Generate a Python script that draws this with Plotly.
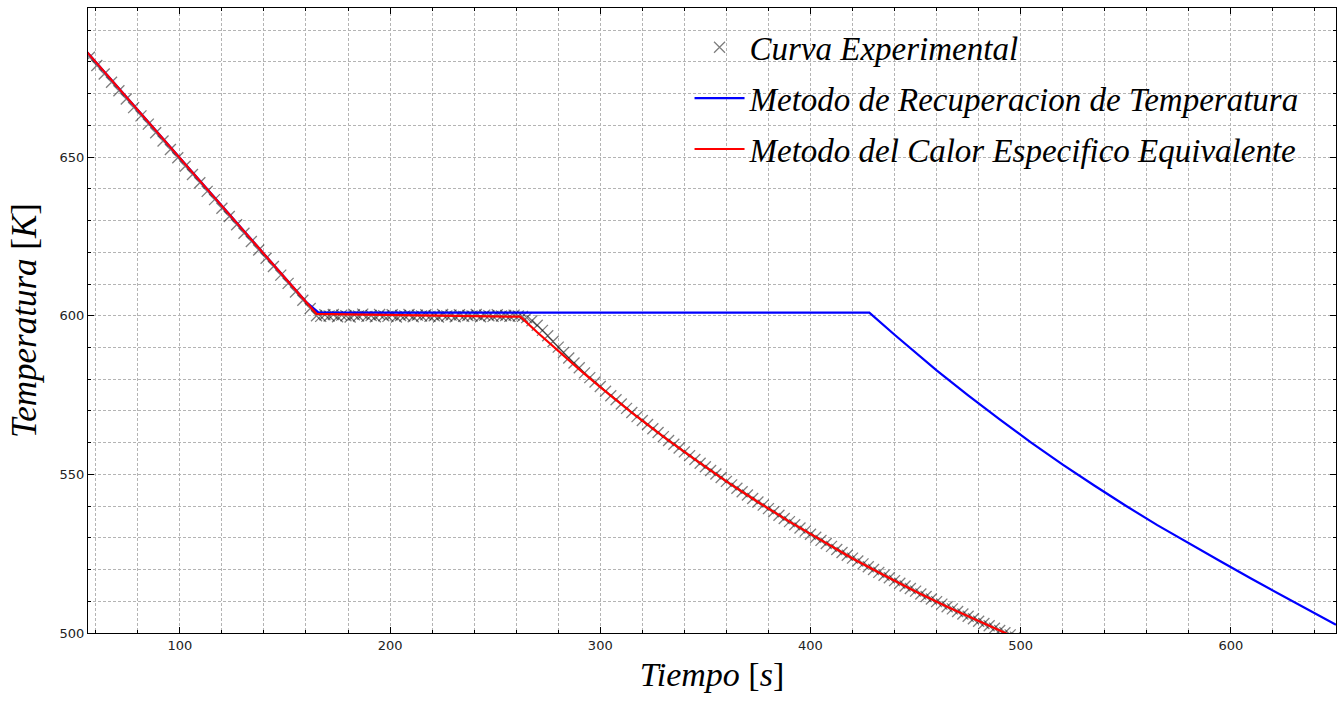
import plotly.graph_objects as go

# ---------------- data ----------------
exp_t = [57, 60.5, 64, 67.5, 71, 74.5, 78, 81.5, 85, 88.5, 92, 95.5, 99, 102.5, 106, 109.5,
         113, 116.5, 120, 123.5, 127, 130.5, 134, 137.5, 141, 144.5, 148, 151.5, 155, 158.5,
         162, 165,
         167, 169, 171, 173, 175, 177, 179, 181, 183, 185, 187, 189, 191, 193, 195, 197, 199,
         201, 203, 205, 207, 209, 211, 213, 215, 217, 219, 221, 223, 225, 227, 229, 231, 233,
         235, 237, 239, 241, 243, 245, 247, 249, 251, 253, 255, 257, 259, 261, 263,
         265, 267.5, 270, 272.5, 275, 277.5, 280, 282.5, 285, 287.5, 290, 292.5, 295, 297.5,
         300, 302.5, 305, 307.5, 310, 312.5, 315, 317.5, 320, 322.5, 325, 327.5, 330, 332.5,
         335, 337.5, 340, 342.5, 345, 347.5, 350, 352.5, 355, 357.5, 360, 362.5, 365, 367.5,
         370, 372.5, 375, 377.5, 380, 382.5, 385, 387.5, 390, 392.5, 395, 397.5, 400, 402.5,
         405, 407.5, 410, 412.5, 415, 417.5, 420, 422.5, 425, 427.5, 430, 432.5, 435, 437.5,
         440, 442.5, 445, 447.5, 450, 452.5, 455, 457.5, 460, 462.5, 465, 467.5, 470, 472.5,
         475, 477.5, 480, 482.5, 485, 487.5, 490, 492.5, 495, 497.5]
exp_T = [681.5, 678.9, 676.2, 673.6, 670.9, 668.3, 665.6, 663.0, 660.4, 657.7, 655.1, 652.4,
         649.8, 647.1, 644.5, 641.9, 639.2, 636.6, 633.9, 631.3, 628.7, 626.0, 623.4, 620.7,
         618.1, 615.5, 612.8, 610.2, 607.5, 604.9, 602.3, 600.0,
         599.8, 600.3, 599.9, 600.4, 599.7, 600.2, 600.0, 599.6, 600.3, 599.9, 600.5, 599.8,
         600.1, 599.7, 600.4, 600.0, 599.8, 600.3, 599.6, 600.1, 599.9, 600.4, 599.7, 600.2,
         599.9, 600.3, 599.8, 600.0, 599.6, 600.4, 599.9, 600.2, 599.7, 600.3, 599.8, 600.1,
         599.9, 600.4, 599.7, 600.2, 600.0, 599.8, 600.3, 599.9, 600.1, 599.8, 600.2, 599.9,
         599.8,
         599.4, 598.4, 597.0, 595.4, 593.7, 591.9, 590.1, 588.4, 586.7, 585.1, 583.6, 582.0,
         580.5, 579.1, 577.7, 576.2, 574.8, 573.5, 572.2, 570.8, 569.5, 568.2, 567.0, 565.7,
         564.4, 563.2, 561.9, 560.7, 559.5, 558.3, 557.1, 555.9, 554.7, 553.5, 552.4, 551.2,
         550.1, 549.0, 547.8, 546.7, 545.6, 544.5, 543.5, 542.4, 541.3, 540.3, 539.2, 538.2,
         537.1, 536.1, 535.1, 534.1, 533.1, 532.1, 531.1, 530.2, 529.2, 528.2, 527.3, 526.3,
         525.4, 524.5, 523.6, 522.7, 521.8, 520.9, 520.0, 519.1, 518.2, 517.4, 516.5, 515.7,
         514.8, 514.0, 513.2, 512.3, 511.5, 510.7, 509.9, 509.1, 508.3, 507.6, 506.8, 506.0,
         505.3, 504.5, 503.7, 503.0, 502.3, 501.5, 500.8, 500.1, 499.4, 498.7]

rec_t = [56, 70, 80, 90, 100, 110, 120, 130, 140, 150, 160, 166, 200, 250, 300, 350, 400,
         428, 440, 450, 460, 475, 490, 505, 520, 535, 550, 565, 580, 595, 610, 625, 640, 650]
rec_T = [683.0, 672.4, 664.9, 657.3, 649.7, 642.2, 634.6, 627.1, 619.5, 611.9, 604.4, 601.0,
         601.0, 601.0, 601.0, 601.0, 601.0, 601.0, 594.0, 588.3, 582.8, 574.9, 567.3, 560.0,
         553.1, 546.5, 540.1, 534.0, 528.2, 522.6, 517.0, 511.6, 506.3, 502.6]

eq_t = [56, 70, 80, 90, 100, 110, 120, 130, 140, 150, 160, 165, 180, 200, 220, 240, 262,
        270, 280, 290, 300, 315, 330, 345, 360, 375, 390, 405, 420, 435, 450, 465, 480, 490, 495]
eq_T = [683.0, 672.4, 664.9, 657.3, 649.7, 642.2, 634.6, 627.1, 619.5, 611.9, 604.4, 600.6,
        600.4, 600.2, 600.0, 599.9, 599.7, 594.8, 588.8, 583.1, 577.5, 569.5, 561.9, 554.7,
        547.8, 541.3, 535.1, 529.2, 523.5, 518.2, 513.1, 508.3, 503.7, 500.8, 499.3]

names = ["Curva Experimental",
         "Metodo de Recuperacion de Temperatura",
         "Metodo del Calor Especifico Equivalente"]

# ---------------- figure ----------------
fig = go.Figure()
fig.add_trace(go.Scatter(
    x=exp_t, y=exp_T, mode="markers", name="<i>" + names[0] + "</i>", legendgroup="a",
    marker=dict(symbol="x-thin", size=11, color="rgba(0,0,0,0.5)",
                line=dict(width=1.3, color="rgba(0,0,0,0.5)"))))
fig.add_trace(go.Scatter(
    x=rec_t, y=rec_T, mode="lines", name="<i>" + names[1] + "</i>", legendgroup="b",
    line=dict(color="#0000ff", width=2.2)))
fig.add_trace(go.Scatter(
    x=eq_t, y=eq_T, mode="lines", name="<i>" + names[2] + "</i>", legendgroup="c",
    line=dict(color="#ff0000", width=2.2)))

gridc = "#b4b4b4"
axis_common = dict(
    showline=True, linecolor="black", linewidth=1.3, mirror="allticks",
    ticks="inside", ticklen=6, tickcolor="black", tickwidth=1,
    showgrid=True, gridcolor=gridc, griddash="3px,2px", gridwidth=1,
    zeroline=False,
    tickfont=dict(family="DejaVu Sans", size=13, color="#222222"),
)

fig.update_xaxes(
    range=[56.3, 650], tickvals=[100, 200, 300, 400, 500, 600],
    minor=dict(dtick=20, tick0=0, showgrid=True, gridcolor=gridc, griddash="3px,2px",
               gridwidth=1, ticks="inside", ticklen=3, tickcolor="black"),
    title=dict(text="<i>Tiempo</i> [<i>s</i>]",
               font=dict(family="Liberation Serif", size=34, color="black"), standoff=10),
    **axis_common)
fig.update_yaxes(
    range=[500, 697], tickvals=[500, 550, 600, 650],
    minor=dict(dtick=10, tick0=0, showgrid=True, gridcolor=gridc, griddash="3px,2px",
               gridwidth=1, ticks="inside", ticklen=3, tickcolor="black"),
    title=dict(text="<i>Temperatura</i> [<i>K</i>]",
               font=dict(family="Liberation Serif", size=35, color="black"), standoff=12),
    **axis_common)

fig.update_layout(
    width=1341, height=701,
    margin=dict(l=88, r=5, t=8, b=68),
    paper_bgcolor="white", plot_bgcolor="white",
    legend=dict(x=0.482, y=0.982, xanchor="left", yanchor="top",
                bgcolor="rgba(0,0,0,0)", borderwidth=0,
                font=dict(family="Liberation Serif", size=33, color="black"),
                itemwidth=50, tracegroupgap=5),
    showlegend=True,
)

fig.write_html("out.html")
